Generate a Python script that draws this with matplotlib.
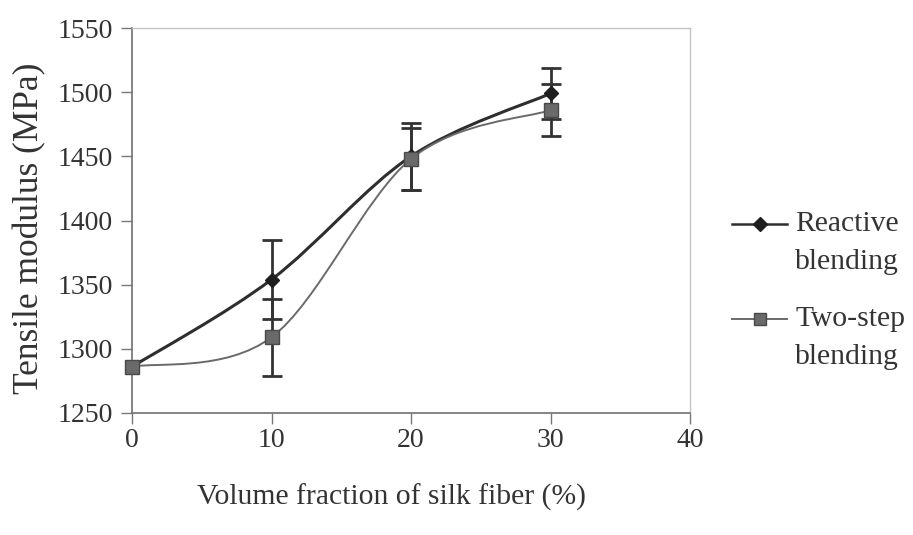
import matplotlib
matplotlib.use("Agg")
import matplotlib.pyplot as plt
import numpy as np
from matplotlib.path import Path
from matplotlib.patches import PathPatch
from matplotlib.lines import Line2D

plt.rcParams['font.family'] = ['Liberation Serif', 'DejaVu Serif']

# ---- data ----
volume_fraction = [0, 10, 20, 30]
reactive_modulus = [1286, 1354, 1450, 1499]
reactive_err = [0, 31, 26, 20]
twostep_modulus = [1286, 1309, 1448, 1486]
twostep_err = [0, 30, 24, 20]
series_labels = [["Reactive", "blending"], ["Two-step", "blending"]]
x_ticks = [0, 10, 20, 30, 40]
y_ticks = [1250, 1300, 1350, 1400, 1450, 1500, 1550]
x_label = "Volume fraction of silk fiber (%)"
y_label = "Tensile modulus (MPa)"

TXT = '#333333'
FS = 20
FS_LAB = 21.3

fig = plt.figure(figsize=(9.13, 5.35), dpi=100)
L, R, T, B = 132, 690, 28, 413
W, H = 913, 535
ax = fig.add_axes([L / W, 1 - B / H, (R - L) / W, (B - T) / H])


def smooth_path(xs, ys):
    """Excel-like smoothed line (Catmull-Rom as cubic Bezier)."""
    P = np.column_stack([xs, ys]).astype(float)
    n = len(P)
    verts = [P[0]]
    codes = [Path.MOVETO]
    for i in range(n - 1):
        p0 = P[i - 1] if i > 0 else P[i]
        p1 = P[i]
        p2 = P[i + 1]
        p3 = P[i + 2] if i + 2 < n else P[i + 1]
        c1 = p1 + (p2 - p0) / 6.0
        c2 = p2 - (p3 - p1) / 6.0
        verts += [c1, c2, p2]
        codes += [Path.CURVE4] * 3
    return Path(verts, codes)


# smoothed lines
ax.add_patch(PathPatch(smooth_path(volume_fraction, reactive_modulus),
                       fill=False, edgecolor='#2e2e2e', lw=2.2, zorder=2))
ax.add_patch(PathPatch(smooth_path(volume_fraction, twostep_modulus),
                       fill=False, edgecolor='#6a6a6a', lw=1.4, zorder=2))


def draw_err(xs, ys, es):
    xs, ys, es = np.asarray(xs), np.asarray(ys), np.asarray(es)
    keep = es > 0
    ax.errorbar(xs[keep], ys[keep], yerr=es[keep], fmt='none',
                ecolor='#333333', elinewidth=2.0, capsize=7.5, capthick=2.0, zorder=3)


draw_err(volume_fraction, reactive_modulus, reactive_err)
draw_err(volume_fraction, twostep_modulus, twostep_err)

# markers
ax.plot(volume_fraction, reactive_modulus, linestyle='none', marker='D',
        markersize=7.5, color='#1e1e1e', markeredgecolor='#1e1e1e', zorder=4,
        clip_on=False)
ax.plot(volume_fraction, twostep_modulus, linestyle='none', marker='s',
        markersize=10.5, markerfacecolor='#6a6a6a', markeredgecolor='#4a4a4a',
        markeredgewidth=1.0, zorder=5, clip_on=False)

ax.set_xlim(0, 40)
ax.set_ylim(1250, 1550)
ax.set_xticks(x_ticks)
ax.set_yticks(y_ticks)
ax.set_xticklabels([str(v) for v in x_ticks], fontsize=FS, color=TXT)
ax.set_yticklabels([str(v) for v in y_ticks], fontsize=FS, color=TXT)
ax.tick_params(axis='both', direction='out', length=8, width=1.0, color='#777777')
ax.tick_params(axis='x', pad=3)
ax.tick_params(axis='y', pad=6)

for s in ['left', 'bottom']:
    ax.spines[s].set_color('#707070')
    ax.spines[s].set_linewidth(1.2)
for s in ['top', 'right']:
    ax.spines[s].set_color('#c4c4c4')
    ax.spines[s].set_linewidth(1.0)

ax.set_xlabel(x_label, fontsize=FS_LAB, color=TXT)
ax.xaxis.set_label_coords((391 - L) / (R - L), (B - 497) / (B - T))
ax.xaxis.label.set_va('center')
ax.set_ylabel(y_label, fontsize=25.5, color=TXT)
ax.yaxis.set_label_coords((30 - L) / (R - L), (B - 228) / (B - T))
ax.yaxis.label.set_va('center')

# legend (manual, two-line labels with the key beside the first line)
legend_styles = [
    dict(color='#2e2e2e', lw=1.8, marker='D', markersize=7, markerfacecolor='#1e1e1e',
         markeredgecolor='#1e1e1e'),
    dict(color='#6a6a6a', lw=1.4, marker='s', markersize=9, markerfacecolor='#6a6a6a',
         markeredgecolor='#4a4a4a'),
]
legend_rows = [224, 319]
for style, labels, yrow in zip(legend_styles, series_labels, legend_rows):
    fy = 1 - yrow / H
    fig.add_artist(Line2D([732 / W, 787 / W], [fy, fy], transform=fig.transFigure,
                          color=style['color'], lw=style['lw']))
    fig.add_artist(Line2D([759.5 / W], [fy], transform=fig.transFigure,
                          linestyle='none', marker=style['marker'],
                          markersize=style['markersize'],
                          markerfacecolor=style['markerfacecolor'],
                          markeredgecolor=style['markeredgecolor']))
    fig.text(795 / W, fy, labels[0], fontsize=FS_LAB, color=TXT, ha='left', va='center')
    fig.text(795 / W, 1 - (yrow + 38) / H, labels[1], fontsize=FS_LAB, color=TXT,
             ha='left', va='center')

fig.savefig('out.png', dpi=100)
